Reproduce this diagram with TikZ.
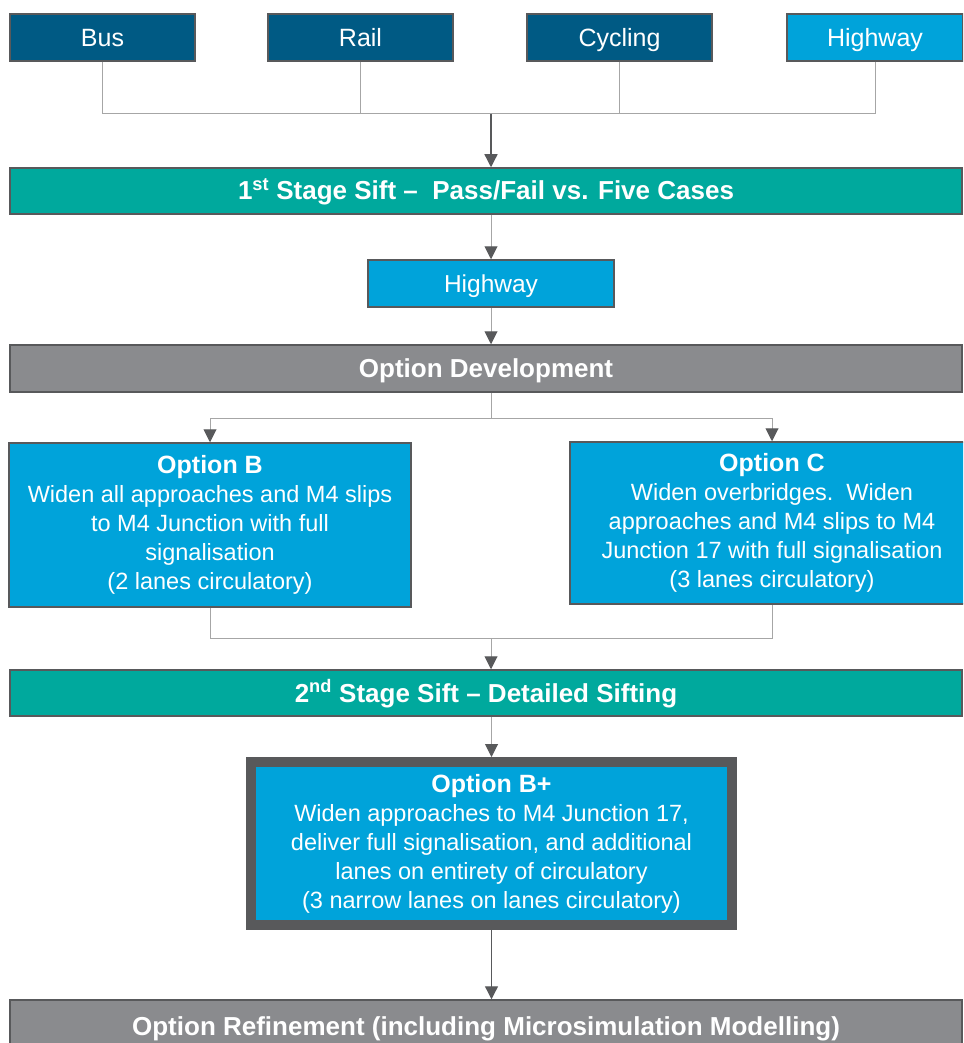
\documentclass[tikz,border=0pt]{standalone}
\usepackage{fontspec}
\setmainfont{Liberation Sans}
\usetikzlibrary{arrows.meta,positioning}
\definecolor{navy}{HTML}{005A84}
\definecolor{sky}{HTML}{00A3DA}
\definecolor{siftgreen}{HTML}{00A99D}
\definecolor{stone}{HTML}{8A8B8E}
\definecolor{edge}{HTML}{58595B}
\definecolor{wire}{HTML}{A6A6A6}

\begin{document}
\begin{tikzpicture}[x=1pt,y=-1pt,
  mode/.style={draw=edge,line width=1.5pt,fill=navy,text=white,minimum width=185pt,
               minimum height=47pt,inner sep=0pt,text height=21pt,text depth=3pt,
               font=\fontsize{25}{30}\selectfont},
  bar/.style={draw=edge,line width=1.5pt,text=white,minimum width=952pt,minimum height=46pt,
              inner sep=0pt,text height=21pt,text depth=3pt,
              font=\bfseries\fontsize{26}{30}\selectfont},
  optbox/.style={draw=edge,line width=1.5pt,fill=sky,text=white,align=center,inner sep=0pt,
                 font=\fontsize{23.5}{29}\selectfont},
  link/.style={draw=wire,line width=1pt},
  arr/.style={draw=wire,line width=1pt,-{Triangle[length=13pt,width=13pt,color=edge,fill=edge]}},
  darr/.style={arr,draw=edge,line width=1.3pt}]
\clip (0,0) rectangle (963,1043);
\fill[white] (0,0) rectangle (963,1043);
% modes
\node[mode] (bus) at (102.5,37.5) {Bus};
\node[mode] (rail) at (360.5,37.5) {Rail};
\node[mode] (cyc) at (619.5,37.5) {Cycling};
\node[mode,fill=sky,minimum width=176pt] (hwy) at (875,37.5) {Highway};
\coordinate (j1) at (491,114);
% stage 1
\node[bar,fill=siftgreen] (sift1) at (486,191) {1\textsuperscript{st} Stage Sift --\ \ Pass/Fail vs. Five Cases};
\node[mode,fill=sky,minimum width=246pt,font=\fontsize{24.5}{30}\selectfont] (hwy2) at (491,283.5) {Highway};
\node[bar,fill=stone,minimum height=47pt] (devel) at (486,368.5) {Option Development};
\coordinate (j2) at (491,418);
% options
\node[optbox,minimum width=402pt,minimum height=164pt] (optb) at (210,525)
  {{\fontsize{25}{29}\selectfont\bfseries Option B}\\Widen all approaches and M4 slips\\to M4 Junction with full\\signalisation\\(2 lanes circulatory)};
\node[optbox,minimum width=404pt,minimum height=162pt] (optc) at (772,523)
  {{\fontsize{25}{29}\selectfont\bfseries Option C}\\Widen overbridges.\ \ Widen\\approaches and M4 slips to M4\\Junction 17 with full signalisation\\(3 lanes circulatory)};
\coordinate (j3) at (491,638);
% stage 2
\node[bar,fill=siftgreen] (sift2) at (486,693) {2\textsuperscript{nd} Stage Sift -- Detailed Sifting};
\node[optbox,line width=10pt,minimum width=481pt,minimum height=163pt] (optbp) at (491.5,843.5)
  {{\fontsize{25}{29}\selectfont\bfseries Option B+}\\Widen approaches to M4 Junction 17,\\deliver full signalisation, and additional\\lanes on entirety of circulatory\\(3 narrow lanes on lanes circulatory)};
\node[bar,fill=stone,minimum height=52pt] (refine) at (486,1026) {Option Refinement (including Microsimulation Modelling)};
% connectors
\draw[link] (bus.south) |- (j1);
\draw[link] (rail.south) |- (j1);
\draw[link] (cyc.south) |- (j1);
\draw[link] (hwy.south) |- (j1);
\draw[darr] (j1) -- (j1 |- sift1.north);
\draw[arr] (hwy2.north |- sift1.south) -- (hwy2.north);
\draw[arr] (hwy2.south) -- (hwy2.south |- devel.north);
\draw[link] (j2 |- devel.south) -- (j2);
\draw[arr] (j2) -| (optb.north);
\draw[arr] (j2) -| (optc.north);
\draw[link] (optb.south) |- (j3);
\draw[link] (optc.south) |- (j3);
\draw[arr] (j3) -- (j3 |- sift2.north);
\draw[arr] (optbp.north |- sift2.south) -- (optbp.north);
\draw[darr] (optbp.south) -- (optbp.south |- refine.north);
\end{tikzpicture}
\end{document}
